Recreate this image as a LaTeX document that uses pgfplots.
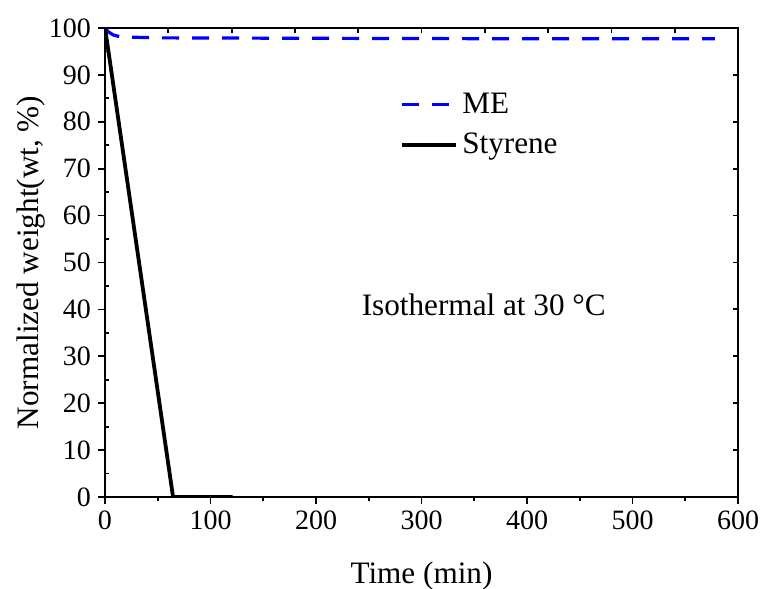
\documentclass[border=0pt]{standalone}
\usepackage{fontspec}
\setmainfont{Liberation Serif}
\usepackage{pgfplots}
\pgfplotsset{compat=1.18}
\usetikzlibrary{calc}

\begin{document}
\begin{tikzpicture}[font=\fontsize{14}{16}\selectfont]
  \begin{axis}[
      name=main,
      scale only axis,
      width=316.5pt, height=234.5pt,
      xmin=0, xmax=600, ymin=0, ymax=100,
      xtick={0,100,...,600}, ytick={0,10,...,100},
      minor x tick num=1, minor y tick num=1,
      xtick pos=bottom, ytick pos=left,
      tick align=outside,
      major tick length=3.5pt, minor tick length=2pt,
      minor y tick style={xshift=2pt},
      axis line style={line width=0.9pt},
      tick style={line width=0.9pt, black},
      /pgf/number format/assume math mode=true,
      xlabel={Time (min)},
      ylabel={Normalized weight(wt, \%)},
      label style={font=\fontsize{15.6}{18}\selectfont},
      xlabel style={yshift=-9pt},
      ylabel style={yshift=-5pt},
      legend style={draw=none, fill=none, at={(axis cs:274,88)}, anchor=north west,
        row sep=4.5pt, font=\fontsize{15.6}{18}\selectfont},
      legend cell align=left,
      legend image code/.code={\draw[#1] (0pt,0pt) -- (27pt,0pt);},
    ]
    \addplot[blue, line width=1.6pt, dash pattern=on 8.5pt off 6.5pt] coordinates {
      (0,100) (3,99.2) (8,98.5) (15,98.1) (50,97.9) (200,97.8) (400,97.7) (578,97.7)};
    \addlegendentry{ME}
    \addplot[black, line width=1.9pt] coordinates {
      (0,100) (2,97) (64.5,0) (121,0)};
    \addlegendentry{Styrene}
    \node[font=\fontsize{15.6}{18}\selectfont] at (axis cs:359,41) {Isothermal at 30 °C};
  \end{axis}
  \begin{axis}[
      scale only axis,
      width=316.5pt, height=234.5pt,
      xmin=0, xmax=600, ymin=0, ymax=100,
      axis line style={draw=none},
      xtick={60,120,...,540}, ytick={10,20,...,90},
      xtick pos=top, ytick pos=right,
      xticklabels={}, yticklabels={},
      tick align=inside, major tick length=2.5pt,
      tick style={line width=0.9pt, black},
    ]
  \end{axis}
  \pgfresetboundingbox
  \path ($(main.south west)+(-52.5pt,-45.5pt)$) rectangle ($(main.north east)+(12.5pt,14pt)$);
\end{tikzpicture}
\end{document}
